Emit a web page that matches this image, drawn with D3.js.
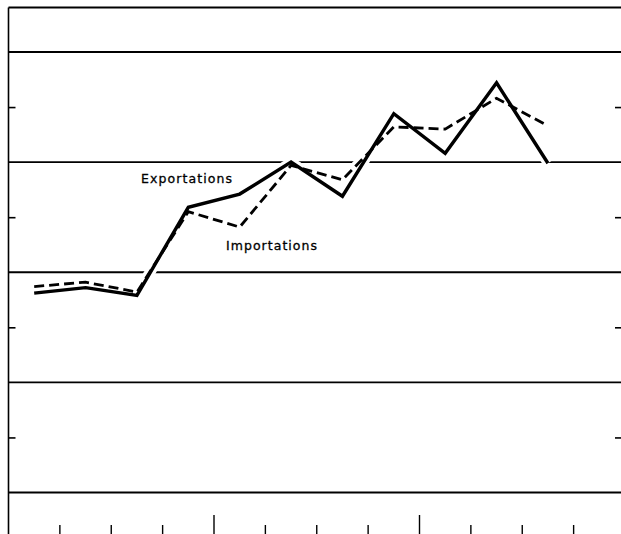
<!DOCTYPE html>
<html>
<head>
<meta charset="utf-8">
<script src="https://cdn.jsdelivr.net/npm/d3@7/dist/d3.min.js"></script>
<style>
  html, body { margin: 0; padding: 0; background: #fff; overflow: hidden; }
  svg { display: block; }
</style>
</head>
<body>
<script>
// ---- data (values in gridline units) ----
const periods = ["1","2","3","4","5","6","7","8","9","10","11","12"];
const exportations = [1.81, 1.86, 1.79, 2.59, 2.71, 3.00, 2.69, 3.44, 3.08, 3.72, 2.99];
const importations = [1.87, 1.91, 1.82, 2.55, 2.41, 2.97, 2.84, 3.32, 3.30, 3.58, 3.33];
const gridValues = [0, 1, 2, 3, 4];
const halfTicks = [0.5, 1.5, 2.5, 3.5];
const longTickIndex = [4, 8];
const seriesLabels = ["Exportations", "Importations"];

const W = 621, H = 534;
const svg = d3.select("body").append("svg").attr("width", W).attr("height", H);

const x = d3.scaleBand().domain(periods).range([8.5, 625]).paddingInner(0).paddingOuter(0);
const y = d3.scaleLinear().domain([0, 4]).range([492.5, 52]);
const yTop = 7.5;

const ink = "#000";

// top border
svg.append("line").attr("x1", 8.5).attr("x2", W).attr("y1", yTop).attr("y2", yTop)
  .attr("stroke", ink).attr("stroke-width", 1.8);

// gridlines
svg.append("g").selectAll("line").data(gridValues).join("line")
  .attr("x1", 8.5).attr("x2", W)
  .attr("y1", d => y(d)).attr("y2", d => y(d))
  .attr("stroke", ink).attr("stroke-width", 1.8);

// left axis line
svg.append("line").attr("x1", 8.5).attr("x2", 8.5).attr("y1", yTop).attr("y2", H)
  .attr("stroke", ink).attr("stroke-width", 1.6);

// left half ticks
svg.append("g").attr("transform", "translate(8.5,0)")
  .call(d3.axisRight(y).tickValues(halfTicks).tickSize(7).tickFormat(""))
  .call(g => g.select(".domain").remove())
  .call(g => g.selectAll("line").attr("stroke", ink).attr("stroke-width", 1.6));

// right half ticks
svg.append("g").attr("transform", `translate(${W},0)`)
  .call(d3.axisLeft(y).tickValues(halfTicks).tickSize(6).tickFormat(""))
  .call(g => g.select(".domain").remove())
  .call(g => g.selectAll("line").attr("stroke", ink).attr("stroke-width", 1.6));

// bottom ticks at period boundaries
const tickPeriods = periods.slice(1);
svg.append("g").selectAll("line").data(tickPeriods).join("line")
  .attr("x1", d => x(d)).attr("x2", d => x(d))
  .attr("y1", (d, i) => longTickIndex.includes(i + 1) ? 515 : 525)
  .attr("y2", H)
  .attr("stroke", ink).attr("stroke-width", 1.4);

const cx = (d, i) => x(periods[i]) + x.bandwidth() / 2;
const line = d3.line().x(cx).y(d => y(d));

// white halos where lines cross gridlines
[importations, exportations].forEach(s => {
  svg.append("path").datum(s).attr("d", line)
    .attr("fill", "none").attr("stroke", "#fff").attr("stroke-width", 10)
    .attr("stroke-linejoin", "round");
});

// importations (dashed)
svg.append("path").datum(importations).attr("d", line)
  .attr("fill", "none").attr("stroke", ink).attr("stroke-width", 2.8)
  .attr("stroke-dasharray", "10,5").attr("stroke-linejoin", "miter");

// exportations (solid)
svg.append("path").datum(exportations).attr("d", line)
  .attr("fill", "none").attr("stroke", ink).attr("stroke-width", 3.4)
  .attr("stroke-linejoin", "miter");

// labels
const labelFont = "'DejaVu Sans', sans-serif";
svg.append("text").text(seriesLabels[0])
  .attr("x", 141).attr("y", 182.5)
  .attr("textLength", 91).attr("lengthAdjust", "spacing")
  .attr("font-family", labelFont).attr("font-size", 12.5).attr("fill", ink)
  .attr("stroke", ink).attr("stroke-width", 0.3);
svg.append("text").text(seriesLabels[1])
  .attr("x", 226).attr("y", 250)
  .attr("textLength", 91).attr("lengthAdjust", "spacing")
  .attr("font-family", labelFont).attr("font-size", 12.5).attr("fill", ink)
  .attr("stroke", ink).attr("stroke-width", 0.3);
</script>
</body>
</html>
